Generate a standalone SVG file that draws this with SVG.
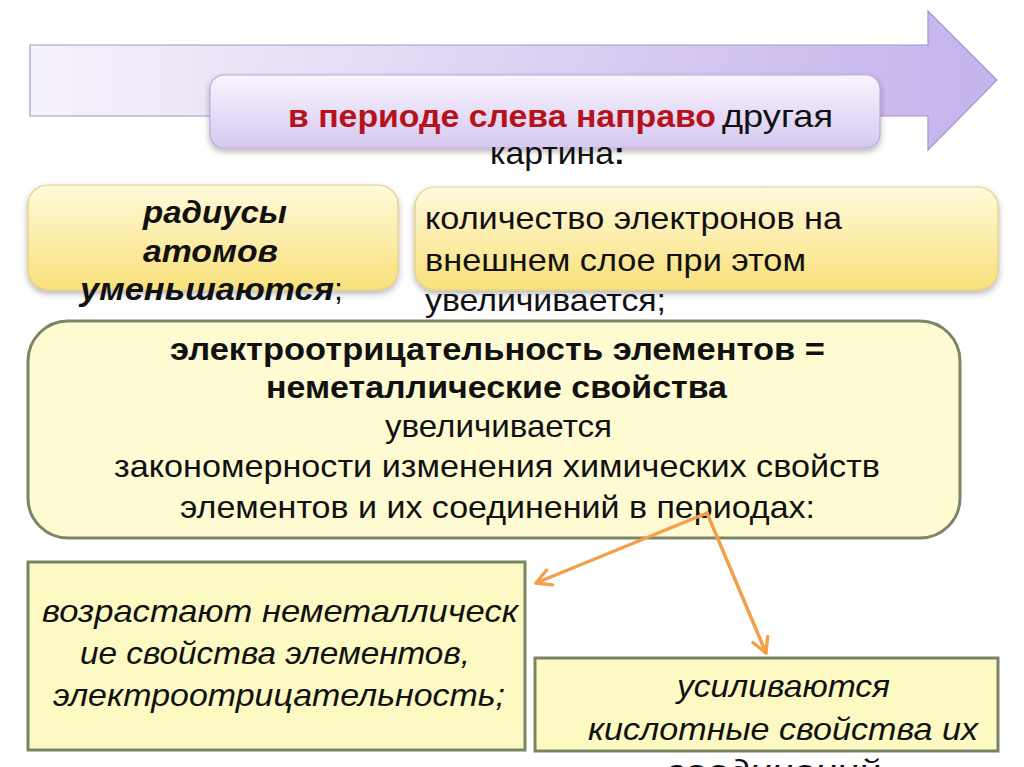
<svg xmlns="http://www.w3.org/2000/svg" width="1024" height="767" viewBox="0 0 1024 767">
<defs>
  <linearGradient id="gArrow" x1="0" y1="0" x2="1" y2="0">
    <stop offset="0" stop-color="#f6f2fb"/>
    <stop offset="1" stop-color="#c5b3ec"/>
  </linearGradient>
  <linearGradient id="gTitle" x1="0" y1="0" x2="0" y2="1">
    <stop offset="0" stop-color="#f8f5fd"/>
    <stop offset="1" stop-color="#d6c8f1"/>
  </linearGradient>
  <linearGradient id="gYel" x1="0" y1="0" x2="0" y2="1">
    <stop offset="0" stop-color="#fffadb"/>
    <stop offset="1" stop-color="#f9e07a"/>
  </linearGradient>
  <filter id="sh" x="-10%" y="-10%" width="120%" height="130%">
    <feDropShadow dx="0" dy="3" stdDeviation="3" flood-color="#000" flood-opacity="0.3"/>
  </filter>
  <marker id="ah" viewBox="0 0 10 10" refX="8.5" refY="5" markerWidth="6" markerHeight="6" orient="auto-start-reverse" markerUnits="strokeWidth">
    <path d="M1.5,1.2 L8.5,5 L1.5,8.8" fill="none" stroke="#f2a04a" stroke-width="1.6" stroke-linecap="round" stroke-linejoin="round"/>
  </marker>
  <style>
    .t { font-family: "Liberation Sans", Arial, sans-serif; font-size: 32px; fill: #111; }
    .b { font-weight: bold; }
    .i { font-style: italic; }
    .red { fill: #b5121b; font-weight: bold; }
    .conn { stroke: #f2a04a; stroke-width: 3.5; fill: none; stroke-linecap: round; }
  </style>
</defs>
<rect width="1024" height="767" fill="#ffffff"/>

<g id="bigArrow">
  <path d="M30,45 L928,45 L928,11 L997,80 L928,150 L928,116 L30,116 Z" fill="url(#gArrow)" stroke="#a596cc" stroke-width="1.2"/>
</g>

<g id="title">
  <rect x="210" y="75" width="670" height="73" rx="14" fill="url(#gTitle)" stroke="#b9aadc" stroke-width="1.2" filter="url(#sh)"/>
  <text class="t" y="127"><tspan class="red" x="288" textLength="428" lengthAdjust="spacingAndGlyphs">в периоде слева направо</tspan><tspan x="722" textLength="111" lengthAdjust="spacingAndGlyphs">другая</tspan></text>
  <text class="t" y="164"><tspan x="490" textLength="124" lengthAdjust="spacingAndGlyphs">картина</tspan><tspan class="b">:</tspan></text>
</g>

<g id="radii">
  <rect x="28" y="185" width="370" height="105" rx="20" fill="url(#gYel)" stroke="#e3cd7e" stroke-width="1.2" filter="url(#sh)"/>
  <text class="t b i" x="143" y="223" textLength="144" lengthAdjust="spacingAndGlyphs">радиусы</text>
  <text class="t b i" x="143" y="262" textLength="135" lengthAdjust="spacingAndGlyphs">атомов</text>
  <text class="t" y="300"><tspan class="b i" x="80" textLength="254" lengthAdjust="spacingAndGlyphs">уменьшаются</tspan><tspan>;</tspan></text>
</g>

<g id="electrons">
  <rect x="415" y="187" width="583" height="103" rx="20" fill="url(#gYel)" stroke="#e3cd7e" stroke-width="1.2" filter="url(#sh)"/>
  <text class="t" x="425" y="229" textLength="417" lengthAdjust="spacingAndGlyphs">количество электронов на</text>
  <text class="t" x="425" y="271" textLength="381" lengthAdjust="spacingAndGlyphs">внешнем слое при этом</text>
  <text class="t" x="425" y="311" textLength="241" lengthAdjust="spacingAndGlyphs">увеличивается;</text>
</g>

<g id="electroneg">
  <rect x="28" y="321" width="932" height="217" rx="40" fill="#fefbd2" stroke="#7d8566" stroke-width="3"/>
  <text class="t b" x="170" y="360" textLength="655" lengthAdjust="spacingAndGlyphs">электроотрицательность элементов  =</text>
  <text class="t b" x="266" y="398" textLength="461" lengthAdjust="spacingAndGlyphs">неметаллические свойства</text>
  <text class="t" x="385" y="437" textLength="227" lengthAdjust="spacingAndGlyphs">увеличивается</text>
  <text class="t" x="114" y="477" textLength="766" lengthAdjust="spacingAndGlyphs">закономерности изменения химических свойств</text>
  <text class="t" x="180" y="518" textLength="635" lengthAdjust="spacingAndGlyphs">элементов и их соединений в периодах:</text>
</g>

<g id="connectors">
  <line class="conn" x1="707" y1="513" x2="536" y2="583" marker-end="url(#ah)"/>
  <line class="conn" x1="707" y1="513" x2="766" y2="653" marker-end="url(#ah)"/>
</g>

<g id="nonmetal">
  <rect x="28" y="562" width="497" height="188" fill="#fcf9c3" stroke="#7a8462" stroke-width="3"/>
  <text class="t i" x="42" y="622" textLength="476" lengthAdjust="spacingAndGlyphs">возрастают неметаллическ</text>
  <text class="t i" x="80" y="664" textLength="390" lengthAdjust="spacingAndGlyphs">ие свойства элементов,</text>
  <text class="t i" x="53" y="706" textLength="452" lengthAdjust="spacingAndGlyphs">электроотрицательность;</text>
</g>

<g id="acid">
  <rect x="535" y="658" width="463" height="93" fill="#fcf9c3" stroke="#7a8462" stroke-width="3"/>
  <text class="t i" x="677" y="697" textLength="213" lengthAdjust="spacingAndGlyphs">усиливаются</text>
  <text class="t i" x="588" y="740" textLength="390" lengthAdjust="spacingAndGlyphs">кислотные свойства их</text>
  <text class="t i" x="665" y="782" textLength="215" lengthAdjust="spacingAndGlyphs">соединений</text>
</g>
</svg>
